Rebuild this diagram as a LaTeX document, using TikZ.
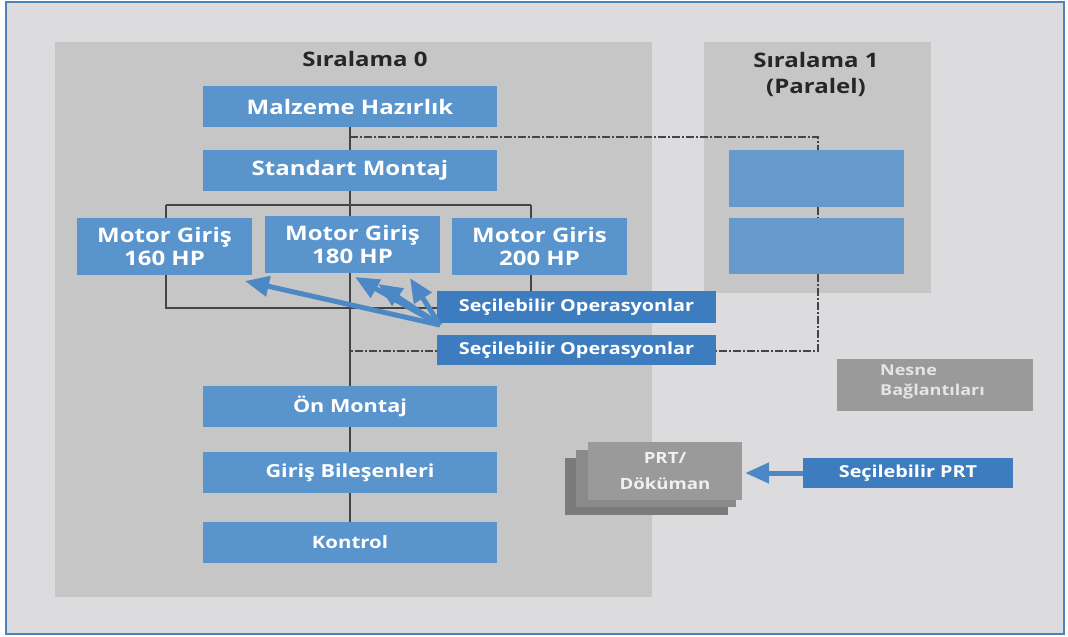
\documentclass[tikz,border=0pt]{standalone}
\usepackage{fontspec}
\setmainfont{Open Sans}[FakeStretch=1.2]
\usetikzlibrary{arrows.meta}
\definecolor{bg}{HTML}{DCDCDE}
\definecolor{frameblue}{HTML}{4F81BD}
\definecolor{panelgray}{HTML}{C6C6C6}
\definecolor{boxblue}{HTML}{5A94CD}
\definecolor{parblue}{HTML}{6699CC}
\definecolor{selblue}{HTML}{3D7DBF}
\definecolor{arrowblue}{HTML}{4C87C6}
\definecolor{linegray}{HTML}{454545}
\definecolor{objgray}{HTML}{9A9A9A}
\tikzset{
  panel/.style={fill=panelgray, draw=none},
  stepbox/.style={fill=boxblue, draw=none, text=white, font=\bfseries,
    inner sep=0pt, align=center},
  wide/.style={minimum width=294pt, minimum height=41pt},
  motor/.style={minimum width=175pt, minimum height=57pt},
  selbox/.style={fill=selblue, draw=none, text=white, font=\bfseries\fontsize{16.5}{18}\selectfont,
    inner sep=0pt, minimum width=279pt},
  parbox/.style={fill=parblue, draw=none, minimum width=175pt},
  title/.style={text=black!85, font=\bfseries\fontsize{20}{26}\selectfont, inner sep=0pt},
  tree/.style={draw=linegray, line width=2pt},
  link/.style={draw=linegray, line width=1.6pt, dash pattern=on 8pt off 2pt on 2pt off 2pt},
  pick/.style={draw=arrowblue, line width=5pt, -{Triangle[width=20pt,length=24pt]}},
  graybox/.style={draw=none, text=black!6, font=\bfseries, inner sep=0pt, align=center},
}
\begin{document}
\begin{tikzpicture}[x=1pt, y=-1pt]
\useasboundingbox (0,0) rectangle (1068,637);
% page frame
\fill[white] (0,0) rectangle (1068,637);
\filldraw[fill=bg, draw=frameblue, line width=2.5pt] (6,2) rectangle (1064,634);

% sequence panels
\path[panel] (55,42) rectangle (652,597);
\path[panel] (704,42) rectangle (931,293);
\node[title] (t0) at (365,59) {Sıralama 0};
\node[title, align=center] (t1) at (816,74) {Sıralama 1\\(Paralel)};

% junction points of the tree
\coordinate (top)   at (350,137);
\coordinate (bar)   at (350,205);
\coordinate (barL)  at (166,205);
\coordinate (barR)  at (531,205);
\coordinate (lowL)  at (166,308);
\coordinate (lowR)  at (531,308);
\coordinate (bot)   at (350,351);
\coordinate (rTop)  at (818,137);
\coordinate (rBot)  at (818,351);
\coordinate (fan)   at (440,325);

% boxes of sequence 0
\node[stepbox, wide, font=\bfseries\fontsize{20}{22}\selectfont] (malz) at (350,106.5) {Malzeme Hazırlık};
\node[stepbox, wide, font=\bfseries\fontsize{20}{22}\selectfont] (std) at (350,170.5) {Standart Montaj};
\node[stepbox, motor, font=\bfseries\fontsize{20}{23}\selectfont] (m160) at (164.5,246.5) {Motor Giriş\\160 HP};
\node[stepbox, motor, font=\bfseries\fontsize{20}{23}\selectfont] (m180) at (352.5,244.5) {Motor Giriş\\180 HP};
\node[stepbox, motor, font=\bfseries\fontsize{20}{23}\selectfont] (m200) at (539.5,246.5) {Motor Giris\\200 HP};
\node[stepbox, wide, font=\bfseries\fontsize{18}{20}\selectfont] (on) at (350,406.5) {Ön Montaj};
\node[stepbox, wide, font=\bfseries\fontsize{18}{20}\selectfont] (giris) at (350,472.5) {Giriş Bileşenleri};
\node[stepbox, wide, font=\bfseries\fontsize{17}{20}\selectfont] (kontrol) at (350,542.5) {Kontrol};

% boxes of sequence 1
\node[parbox, minimum height=57pt] (p1) at (816.5,178.5) {};
\node[parbox, minimum height=56pt] (p2) at (816.5,246) {};

% tree lines (behind the selection boxes)
\path[tree] (malz.south) -- (std.north);
\path[tree] (std.south) -- (bar);
\path[tree] (barL) -- (barR);
\path[tree] (barL) -- (barL |- m160.north);
\path[tree] (bar) -- (bar |- m180.north);
\path[tree] (barR) -- (barR |- m200.north);
\path[tree] (lowL |- m160.south) -- (lowL) -- (lowR) -- (lowR |- m200.south);
\path[tree] (bar |- m180.south) -- (on.north);
\path[tree] (on.south) -- (giris.north);
\path[tree] (giris.south) -- (kontrol.north);

% links to the parallel sequence
\path[link] (top) -- (rTop) -- (rTop |- p1.north);
\path[link] (rTop |- p1.south) -- (rTop |- p2.north);
\path[link] (rTop |- p2.south) -- (rBot) -- (bot);

% optional operations
\node[selbox, minimum height=32pt] (sel1) at (576.5,307) {Seçilebilir Operasyonlar};
\node[selbox, minimum height=30pt] (sel2) at (576.5,350) {Seçilebilir Operasyonlar};
\coordinate (a160) at (245,281);
\coordinate (a180) at (355,277);
\coordinate (a180b) at (378,284);
\coordinate (a200) at (410,278);
\draw[pick] (fan) -- (a160);
\draw[pick] (fan) -- (a180);
\draw[pick] (fan) -- (a180b);
\draw[pick] (fan) -- (a200);

% object links
\node[graybox, fill=objgray, minimum width=196pt, minimum height=52pt] (obj) at (935,385) {};
\node[graybox, align=left, anchor=west, text=black!10, font=\bfseries\fontsize{15}{20}\selectfont] (objt) at (880,382) {Nesne\\Bağlantıları};

% stacked documents
\node[graybox, fill=black!52, minimum width=163pt, minimum height=57pt] (prt3) at (646.5,486.5) {};
\node[graybox, fill=black!46, minimum width=160pt, minimum height=57pt] (prt2) at (656,478.5) {};
\node[graybox, fill=objgray, minimum width=154pt, minimum height=58pt,
      font=\bfseries\fontsize{15.5}{26}\selectfont] (prt1) at (665,471) {PRT/\\Döküman};
\node[selbox, minimum width=210pt, minimum height=30pt, font=\bfseries\fontsize{16.5}{18}\selectfont] (selprt) at (908,473) {Seçilebilir PRT};
\draw[pick] (selprt.west) -- ([xshift=3pt]prt1.east |- selprt.west);
\end{tikzpicture}
\end{document}
